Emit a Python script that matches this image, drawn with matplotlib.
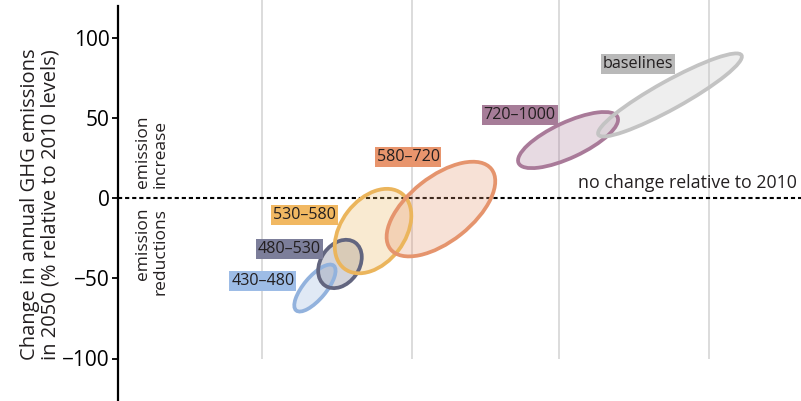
import matplotlib.pyplot as plt
from matplotlib.patches import Ellipse
from matplotlib.colors import to_rgba

# concentration categories (ppm CO2eq) and their ranges in 2050
categories = ["430\u2013480", "480\u2013530", "530\u2013580", "580\u2013720", "720\u20131000", "baselines"]
center_x = [122.7, 138.3, 158.9, 201.2, 280.4, 343.9]
center_y = [-56.1, -41.1, -20.6, -6.9, 36.1, 64.2]
widths = [36.4, 32.7, 58.9, 80.3, 68.0, 102.0]
heights = [14.0, 24.0, 39.7, 40.2, 22.0, 17.5]
angles = [50, 55, 52.6, 38.4, 25, 29]
label_x = [90.3, 106.9, 116.3, 180.7, 250.3, 323.9]
label_y = [-51.7, -31.6, -10.6, 25.5, 51.7, 83.4]

edge_colors = ["#92b2dd", "#62657f", "#ebb55c", "#e5946d", "#a97a99", "#c3c3c3"]
box_colors = ["#9dbce6", "#7c7e9a", "#f1b862", "#e8956d", "#a67c98", "#b9b9b9"]

grid_x = [90, 183, 275, 368]
yticks = [100, 50, 0, -50, -100]

plt.rcParams["font.family"] = ["Open Sans", "DejaVu Sans"]

fig = plt.figure(figsize=(8.01, 4.01), dpi=100)
ax = fig.add_axes([118 / 801, 0, 683 / 801, 1])
ax.set_xlim(0, 683 / 1.605)
ax.set_ylim(-203 / 1.605, 198 / 1.605)

for s in ["top", "right", "bottom"]:
    ax.spines[s].set_visible(False)
ax.spines["left"].set_linewidth(1.6)
ax.spines["left"].set_bounds(-203 / 1.605, 119.6)
ax.set_xticks([])
ax.set_yticks(yticks)
ax.set_yticklabels([f"{v:g}".replace("-", "\u2212") for v in yticks])
ax.tick_params(axis="y", length=4, width=1.3, labelsize=15, pad=2)

ax.vlines(grid_x, -100, 130, color="#d6d6d6", lw=1.2, zorder=0)
ax.axhline(0, color="black", lw=1.5, ls=(0, (2, 1.4)), zorder=1)

# fills first, outlines on top
for i in range(len(categories)):
    ax.add_patch(Ellipse((center_x[i], center_y[i]), widths[i], heights[i], angle=angles[i],
                         facecolor=to_rgba(edge_colors[i], 0.28), edgecolor="none", zorder=2))
for i in range(len(categories)):
    ax.add_patch(Ellipse((center_x[i], center_y[i]), widths[i], heights[i], angle=angles[i],
                         facecolor="none", edgecolor=edge_colors[i], lw=2.7, zorder=3))

for i, name in enumerate(categories):
    ax.text(label_x[i], label_y[i], name, ha="center", va="center", fontsize=11.6,
            color="#231f20", zorder=4,
            bbox=dict(boxstyle="square,pad=0.12", facecolor=box_colors[i], edgecolor="none"))

ax.text(423, 4, "no change relative to 2010", ha="right", va="bottom", fontsize=12.8, color="#231f20")
ax.text(21, 6, "emission\nincrease", rotation=90, ha="center", va="bottom",
        multialignment="left", fontsize=12.5, linespacing=1.12, color="#231f20")
ax.text(21, -6, "emission\nreductions", rotation=90, ha="center", va="top",
        multialignment="right", fontsize=12.5, linespacing=1.12, color="#231f20")

ax.text(-0.114, 0.49, "Change in annual GHG emissions\nin 2050 (% relative to 2010 levels)",
        transform=ax.transAxes, rotation=90, ha="center", va="center", fontsize=14.5,
        linespacing=1.08, color="#231f20")

fig.savefig("out.png", dpi=100)
